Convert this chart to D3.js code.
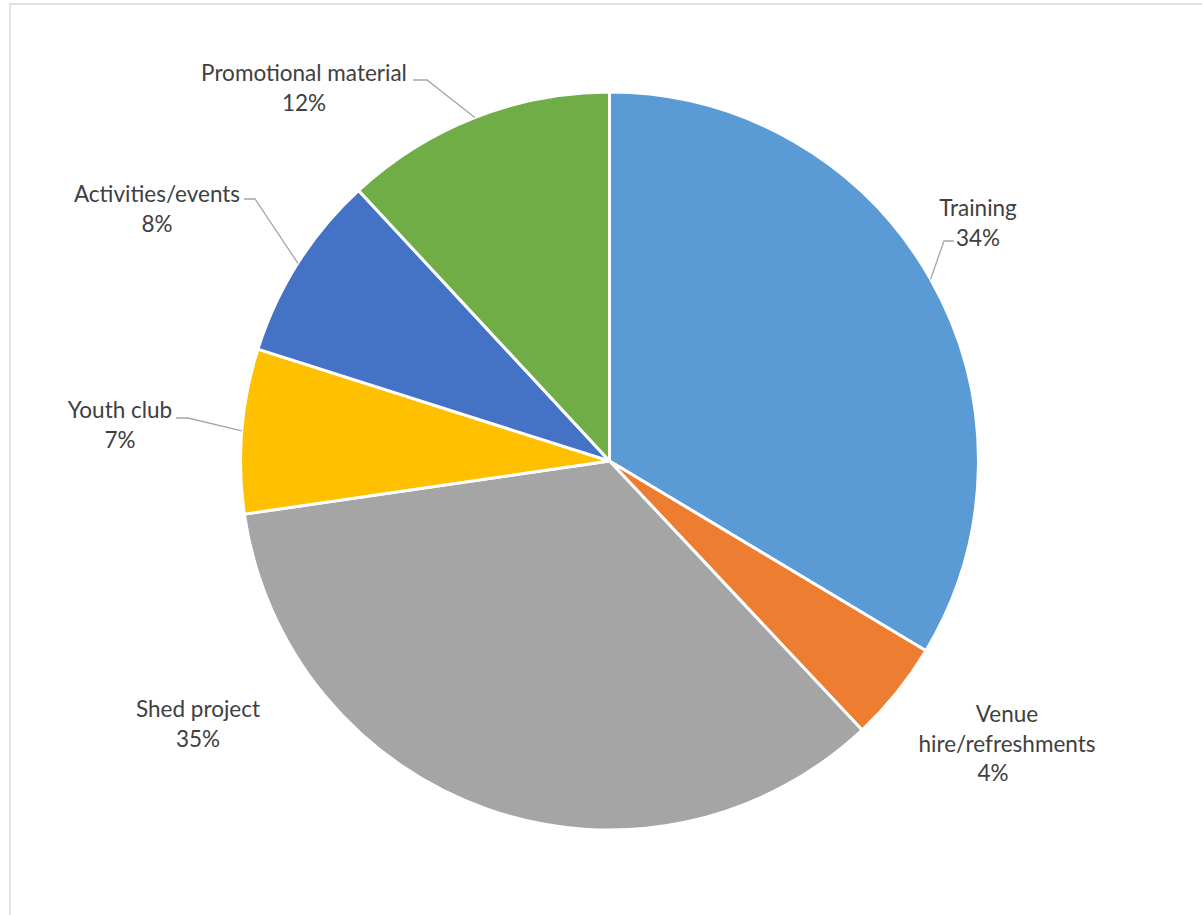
<!DOCTYPE html>
<html>
<head>
<meta charset="utf-8">
<script src="https://cdn.jsdelivr.net/npm/d3@7"></script>
<style>
  html, body { margin: 0; padding: 0; background: #fff; }
  svg { display: block; }
</style>
</head>
<body>
<svg id="chart" width="1202" height="915"></svg>
<script>
// ---- data ----
const categories = ["Training", "Venue hire/refreshments", "Shed project", "Youth club", "Activities/events", "Promotional material"];
const values = [33.6, 4.4, 34.7, 7.2, 8.2, 11.9];
const percentLabels = ["34%", "4%", "35%", "7%", "8%", "12%"];
const colors = ["#5B9BD5", "#ED7D31", "#A5A5A5", "#FFC000", "#4472C4", "#70AD47"];

// ---- layout (label placement, not data) ----
const labelLayout = [
  { lines: ["Training", "34%"], xs: [978, 978], y: 207, elbow: [944, 241], end: [954, 241] },
  { lines: ["Venue", "hire/refreshments", "4%"], xs: [1007, 1007, 993], y: 713 },
  { lines: ["Shed project", "35%"], xs: [198, 198], y: 708 },
  { lines: ["Youth club", "7%"], xs: [120, 120], y: 409, elbow: [188, 418], end: [176, 418] },
  { lines: ["Activities/events", "8%"], xs: [157, 157], y: 193, elbow: [255, 199], end: [244, 199] },
  { lines: ["Promotional material", "12%"], xs: [304, 304], y: 72, elbow: [427, 80], end: [413, 80] }
];

const svg = d3.select("#chart");
const cx = 609.5, cy = 461, r = 369;

// frame
svg.append("rect")
  .attr("x", 10).attr("y", 4)
  .attr("width", 1220).attr("height", 940)
  .attr("fill", "none").attr("stroke", "#D9D9D9").attr("stroke-width", 1.5);

const data = categories.map((c, i) => ({ name: c, value: values[i], pct: percentLabels[i], color: colors[i], layout: labelLayout[i] }));

const pie = d3.pie().value(d => d.value).sort(null);
const arcs = pie(data);
const arc = d3.arc().innerRadius(0).outerRadius(r);

const g = svg.append("g").attr("transform", `translate(${cx},${cy})`);
g.selectAll("path.slice")
  .data(arcs)
  .join("path")
  .attr("class", "slice")
  .attr("d", arc)
  .attr("fill", d => d.data.color)
  .attr("stroke", "#fff")
  .attr("stroke-width", 3)
  .attr("stroke-linejoin", "round");

// leader lines
arcs.forEach(a => {
  const L = a.data.layout;
  if (!L.elbow) return;
  const mid = (a.startAngle + a.endAngle) / 2;
  const px = cx + Math.sin(mid) * r;
  const py = cy - Math.cos(mid) * r;
  svg.append("polyline")
    .attr("points", `${px},${py} ${L.elbow[0]},${L.elbow[1]} ${L.end[0]},${L.end[1]}`)
    .attr("fill", "none")
    .attr("stroke", "#A6A6A6")
    .attr("stroke-width", 1.3);
});

// labels
const lineH = 29.5;
arcs.forEach(a => {
  const L = a.data.layout;
  const t = svg.append("text")
    .attr("font-family", "Lato, 'Open Sans', sans-serif")
    .attr("font-size", 22.5)
    .attr("fill", "#404040")
    .attr("text-anchor", "middle")
    .attr("dominant-baseline", "central");
  L.lines.forEach((ln, j) => {
    t.append("tspan").attr("x", L.xs[j]).attr("y", L.y + j * lineH).text(ln);
  });
});
</script>
</body>
</html>
